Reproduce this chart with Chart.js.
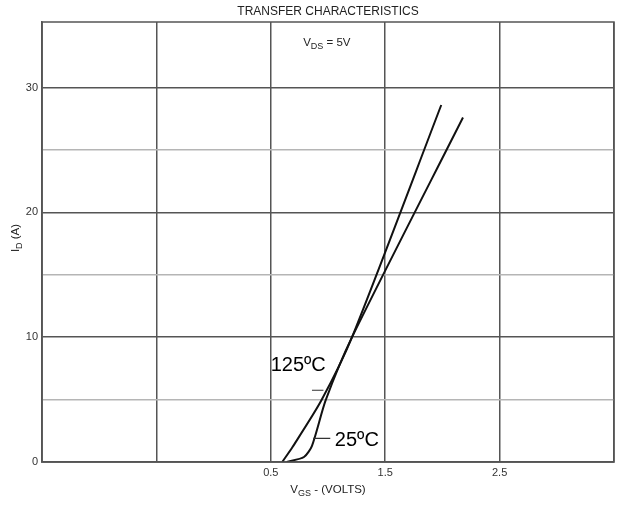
<!DOCTYPE html>
<html>
<head>
<meta charset="utf-8">
<script src="https://cdn.jsdelivr.net/npm/chart.js@4"></script>
<style>
  html, body { margin: 0; padding: 0; background: #fff; }
  canvas { display: block; }
</style>
</head>
<body>
<canvas id="transferChart" width="621" height="505"></canvas>
<script>
// Curves (VGS in volts, ID in amps)
const vgs25 = [0.64, 0.79, 0.86, 0.98, 1.21, 2.18];
const id25 = [0, 0.4, 1.3, 4.95, 10, 27.6];
const vgs125 = [0.60, 0.69, 0.94, 1.21, 1.99];
const id125 = [0, 1.2, 4.9, 10, 28.6];

const xTickValues = [-1.5, -0.5, 0.5, 1.5, 2.5, 3.5];
const xTickLabels = ["", "", "0.5", "1.5", "2.5", ""];
const yTickValues = [0, 5, 10, 15, 20, 25, 30];
const yTickLabels = ["0", "", "10", "", "20", "", "30"];

const toPoints = (xs, ys) => xs.map((x, i) => ({ x: x, y: ys[i] }));

// helper: text with a subscript part
function subText(ctx, parts, x, y, size, align) {
  const sub = Math.round(size * 0.8);
  let w = 0;
  parts.forEach(p => {
    ctx.font = (p.sub ? sub : size) + "px Arial, 'Liberation Sans', sans-serif";
    w += ctx.measureText(p.t).width;
  });
  let cx = align === "center" ? x - w / 2 : x;
  ctx.textAlign = "left";
  ctx.textBaseline = "middle";
  parts.forEach(p => {
    ctx.font = (p.sub ? sub : size) + "px Arial, 'Liberation Sans', sans-serif";
    ctx.fillText(p.t, cx, p.sub ? y + size * 0.3 : y);
    cx += ctx.measureText(p.t).width;
  });
}

const labelsPlugin = {
  id: "labels",
  afterDraw(chart) {
    const ctx = chart.ctx;
    const xs = chart.scales.x, ys = chart.scales.y;
    const a = chart.chartArea;
    ctx.save();

    // frame
    ctx.strokeStyle = "#555";
    ctx.lineWidth = 1.5;
    ctx.strokeRect(a.left, a.top, a.right - a.left, a.bottom - a.top);

    ctx.fillStyle = "#222";
    ctx.font = "12px Arial, 'Liberation Sans', sans-serif";
    ctx.textAlign = "center";
    ctx.textBaseline = "middle";
    ctx.fillText("TRANSFER CHARACTERISTICS", (a.left + a.right) / 2, 12);

    subText(ctx, [{ t: "V" }, { t: "DS", sub: true }, { t: " = 5V" }],
      xs.getPixelForValue(0.99), ys.getPixelForValue(33.6), 11.5, "center");

    subText(ctx, [{ t: "V" }, { t: "GS", sub: true }, { t: " - (VOLTS)" }],
      (a.left + a.right) / 2, 490, 11.5, "center");

    ctx.save();
    ctx.translate(16, 238);
    ctx.rotate(-Math.PI / 2);
    subText(ctx, [{ t: "I" }, { t: "D", sub: true }, { t: " (A)" }], 0, 0, 11.5, "center");
    ctx.restore();

    // curve labels
    ctx.fillStyle = "#000";
    ctx.font = "20px Arial, 'Liberation Sans', sans-serif";
    ctx.textAlign = "center";
    ctx.fillText("125ºC", xs.getPixelForValue(0.74), ys.getPixelForValue(7.75));
    ctx.textAlign = "left";
    ctx.fillText("25ºC", xs.getPixelForValue(1.06), ys.getPixelForValue(1.7));

    ctx.strokeStyle = "#333";
    ctx.lineWidth = 1.2;
    ctx.beginPath();
    ctx.moveTo(xs.getPixelForValue(0.86), ys.getPixelForValue(5.75));
    ctx.lineTo(xs.getPixelForValue(0.96), ys.getPixelForValue(5.75));
    ctx.moveTo(xs.getPixelForValue(0.87), ys.getPixelForValue(1.9));
    ctx.lineTo(xs.getPixelForValue(1.02), ys.getPixelForValue(1.9));
    ctx.stroke();
    ctx.restore();
  }
};

new Chart(document.getElementById("transferChart"), {
  type: "line",
  data: {
    datasets: [
      {
        label: "25ºC",
        data: toPoints(vgs25, id25),
        borderColor: "#111",
        borderWidth: 2,
        pointRadius: 0,
        tension: 0.25,
        fill: false
      },
      {
        label: "125ºC",
        data: toPoints(vgs125, id125),
        borderColor: "#111",
        borderWidth: 2,
        pointRadius: 0,
        tension: 0.25,
        fill: false
      }
    ]
  },
  options: {
    responsive: false,
    animation: false,
    layout: { padding: { top: 22, right: 7, left: 0, bottom: 0 } },
    plugins: {
      legend: { display: false },
      tooltip: { enabled: false }
    },
    scales: {
      x: {
        type: "linear",
        min: -1.5,
        max: 3.5,
        afterBuildTicks: (s) => { s.ticks = xTickValues.map(v => ({ value: v })); },
        afterFit: (s) => { s.height = 43; },
        ticks: {
          callback: (v) => xTickLabels[xTickValues.indexOf(v)] || "",
          color: "#333",
          font: { size: 11, family: "Arial, 'Liberation Sans', sans-serif" },
          padding: 4,
          maxRotation: 0,
          autoSkip: false
        },
        grid: { color: "#555", lineWidth: 1.5, drawTicks: false },
        border: { color: "#555", width: 1.5 }
      },
      y: {
        type: "linear",
        min: 0,
        max: 35.25,
        afterBuildTicks: (s) => { s.ticks = yTickValues.map(v => ({ value: v })); },
        afterFit: (s) => { s.width = 42; },
        ticks: {
          callback: (v) => yTickLabels[yTickValues.indexOf(v)] || "",
          color: "#333",
          font: { size: 11, family: "Arial, 'Liberation Sans', sans-serif" },
          padding: 4,
          autoSkip: false
        },
        grid: {
          color: (c) => (c.tick && c.tick.value % 10 === 0) ? "#555" : "#b5b5b5",
          lineWidth: 1.5,
          drawTicks: false
        },
        border: { color: "#555", width: 1.5 }
      }
    }
  },
  plugins: [labelsPlugin]
});
</script>
</body>
</html>
